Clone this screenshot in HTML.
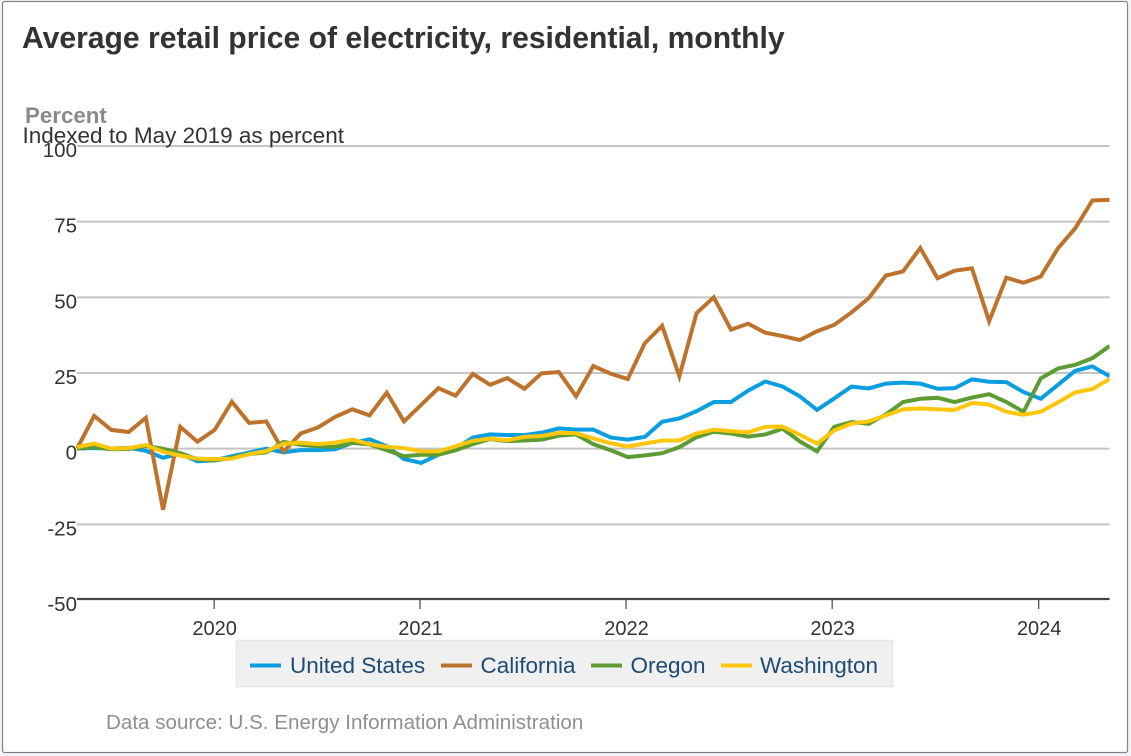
<!DOCTYPE html>
<html lang="en">
<head>
<meta charset="utf-8">
<title>Average retail price of electricity, residential, monthly</title>
<style>
html,body{margin:0;padding:0;background:#f2f4f8;}
body{width:1131px;height:756px;overflow:hidden;}
svg{display:block;font-family:"Liberation Sans",sans-serif;}
</style>
</head>
<body>
<svg id="chart" width="1131" height="756" viewBox="0 0 1131 756" xmlns="http://www.w3.org/2000/svg">
  <rect x="2.5" y="1.5" width="1125" height="751" rx="2" fill="#ffffff" stroke="#80838a" stroke-width="1.2"/>
  <text x="22" y="48" font-size="30.1" font-weight="bold" fill="#333333">Average retail price of electricity, residential, monthly</text>
  <g id="grid"></g>
  <g id="yticks"></g>
  <text x="25" y="123" font-size="22.3" font-weight="bold" fill="#8a8a8a">Percent</text>
  <text x="22.5" y="143" font-size="22.5" fill="#333333">Indexed to May 2019 as percent</text>
  <g id="xaxis"></g>
  <g id="series"></g>
  <g>
    <rect x="236.5" y="640.5" width="656" height="46" fill="#f0f0f0" stroke="#e6e6e6" stroke-width="1.5"/>
    <g>
      <line x1="250" y1="665.5" x2="281" y2="665.5" stroke="#0a9ee0" stroke-width="4"/>
      <text x="290" y="673" font-size="22.5" fill="#1f4a73">United States</text>
    </g>
    <g>
      <line x1="441" y1="665.5" x2="472" y2="665.5" stroke="#bd732b" stroke-width="4"/>
      <text x="480.5" y="673" font-size="22.5" fill="#1f4a73">California</text>
    </g>
    <g>
      <line x1="591" y1="665.5" x2="622" y2="665.5" stroke="#5d9b33" stroke-width="4"/>
      <text x="630.5" y="673" font-size="22.5" fill="#1f4a73">Oregon</text>
    </g>
    <g>
      <line x1="721" y1="665.5" x2="752" y2="665.5" stroke="#ffc60a" stroke-width="4"/>
      <text x="760" y="673" font-size="22.5" fill="#1f4a73">Washington</text>
    </g>
  </g>
  <text x="106" y="729" font-size="20.6" fill="#8f8f8f">Data source: U.S. Energy Information Administration</text>
</svg>
<script>
const yTickValues = [100, 75, 50, 25, 0, -25, -50];
const yearLabels = ["2020", "2021", "2022", "2023", "2024"];
const yearTickMonths = [7.97, 19.93, 31.9, 43.88, 55.88];
const unitedStates = [0,0.2,0,0.3,-0.7,-3,-1.6,-4.2,-3.8,-2.5,-1.3,0,-1.2,-0.5,-0.5,-0.2,1.9,3.1,0.8,-3.4,-4.7,-2,0,3.7,4.7,4.5,4.5,5.3,6.7,6.3,6.3,3.7,3,3.9,8.9,10,12.4,15.4,15.4,19.2,22.2,20.5,17.3,12.8,16.6,20.5,19.9,21.5,21.8,21.5,19.8,20,22.9,22.1,22,18.7,16.5,21.1,25.7,27.2,23.9];
const california = [0,10.8,6.2,5.5,10.2,-20.2,7.2,2.3,6.2,15.5,8.5,9,-1,5,7,10.5,13,11,18.5,9,14.5,20,17.5,24.7,21.1,23.3,19.8,24.9,25.3,17.3,27.3,24.8,23,34.9,40.6,23.9,44.8,50,39.3,41.3,38.3,37.2,35.9,38.8,40.9,45,49.7,57.2,58.6,66.3,56.3,58.8,59.6,42.1,56.5,54.8,56.9,66.2,72.8,82,82.2];
const oregon = [0,0.5,-0.2,-0.1,0.9,0,-1.5,-3.5,-3.9,-3,-1.8,-1.2,2.2,1.3,0.8,0.6,1.9,1.4,-0.5,-2.5,-2,-2,-0.5,1.5,3.2,2.5,2.7,3,4.3,4.7,1.5,-0.5,-2.8,-2.2,-1.5,0.5,3.8,5.6,5,4,4.7,6.6,2.4,-0.9,7.2,8.8,8.2,11.3,15.4,16.5,16.8,15.4,16.9,18,15.4,12.2,23.2,26.5,27.7,29.9,33.9];
const washington = [0.5,1.7,0,0.2,1.2,-1,-2.3,-3.3,-3.4,-3.3,-1.8,-0.8,1.6,2,1.5,2,3,1.5,0.6,0.2,-0.9,-0.9,0.8,2.6,3.3,2.8,3.9,4.2,5.2,5.1,3.4,1.8,0.7,1.7,2.7,2.7,5,6.3,5.8,5.4,7.2,7.3,4.6,1.7,6,8.3,9,11,13,13.3,13,12.8,15.1,14.6,12.2,11.2,12.2,15.3,18.6,19.7,23];
const seriesNames = ["united-states", "california", "oregon", "washington"];
const seriesValues = [unitedStates, california, oregon, washington];
const seriesColors = ["#0a9ee0", "#bd732b", "#5d9b33", "#ffc60a"];

const NS = "http://www.w3.org/2000/svg";
const plotLeft = 77, plotRight = 1109.6, plotTop = 146, plotBottom = 600;
const monthCount = unitedStates.length - 1;
function xScale(i) {
  return plotLeft + (plotRight - plotLeft) * i / monthCount;
}
function yScale(v) {
  return plotBottom - (v + 50) / 150 * (plotBottom - plotTop);
}
function make(tag, attrs, parent) {
  const el = document.createElementNS(NS, tag);
  for (const k in attrs) el.setAttribute(k, attrs[k]);
  parent.appendChild(el);
  return el;
}
const grid = document.getElementById("grid");
const yticks = document.getElementById("yticks");
const xaxis = document.getElementById("xaxis");
const seriesGroup = document.getElementById("series");

yTickValues.forEach(function (v) {
  if (v !== -50) {
    const g = make("line", {x1: plotLeft, x2: plotRight, y1: yScale(v), y2: yScale(v), stroke: "#c4c4c4", "stroke-width": 2}, grid);
    
    
  }
  const t = make("text", {x: 77, y: yScale(v) + 11, "text-anchor": "end", "font-size": 20.5, fill: "#333333"}, yticks);
  t.textContent = String(v);
  
  
});

const axisLine = make("line", {x1: plotLeft, x2: plotRight, y1: plotBottom - 1, y2: plotBottom - 1, stroke: "#444444", "stroke-width": 2.2}, xaxis);



yearLabels.forEach(function (label, n) {
  const x = xScale(yearTickMonths[n]);
  const tick = make("line", {x1: x, x2: x, y1: plotBottom - 1, y2: plotBottom + 9, stroke: "#444444", "stroke-width": 1.2}, xaxis);
  
  
  const t = make("text", {x: x + 0.5, y: 635, "text-anchor": "middle", "font-size": 20, fill: "#333333"}, xaxis);
  t.textContent = label;
  
  
});

const clip = make("clipPath", {id: "plot-clip"}, seriesGroup);
make("rect", {x: plotLeft - 1, y: 100, width: plotRight - plotLeft + 1, height: 520}, clip);

seriesValues.forEach(function (values, s) {
  const d = values.map(function (v, i) {
    return (i ? "L" : "M") + xScale(i).toFixed(2) + " " + yScale(v).toFixed(2);
  }).join(" ");
  const path = make("path", {d: d, fill: "none", stroke: seriesColors[s], "stroke-width": 4, "stroke-linejoin": "miter", "clip-path": "url(#plot-clip)"}, seriesGroup);
  
  
});
</script>
</body>
</html>
